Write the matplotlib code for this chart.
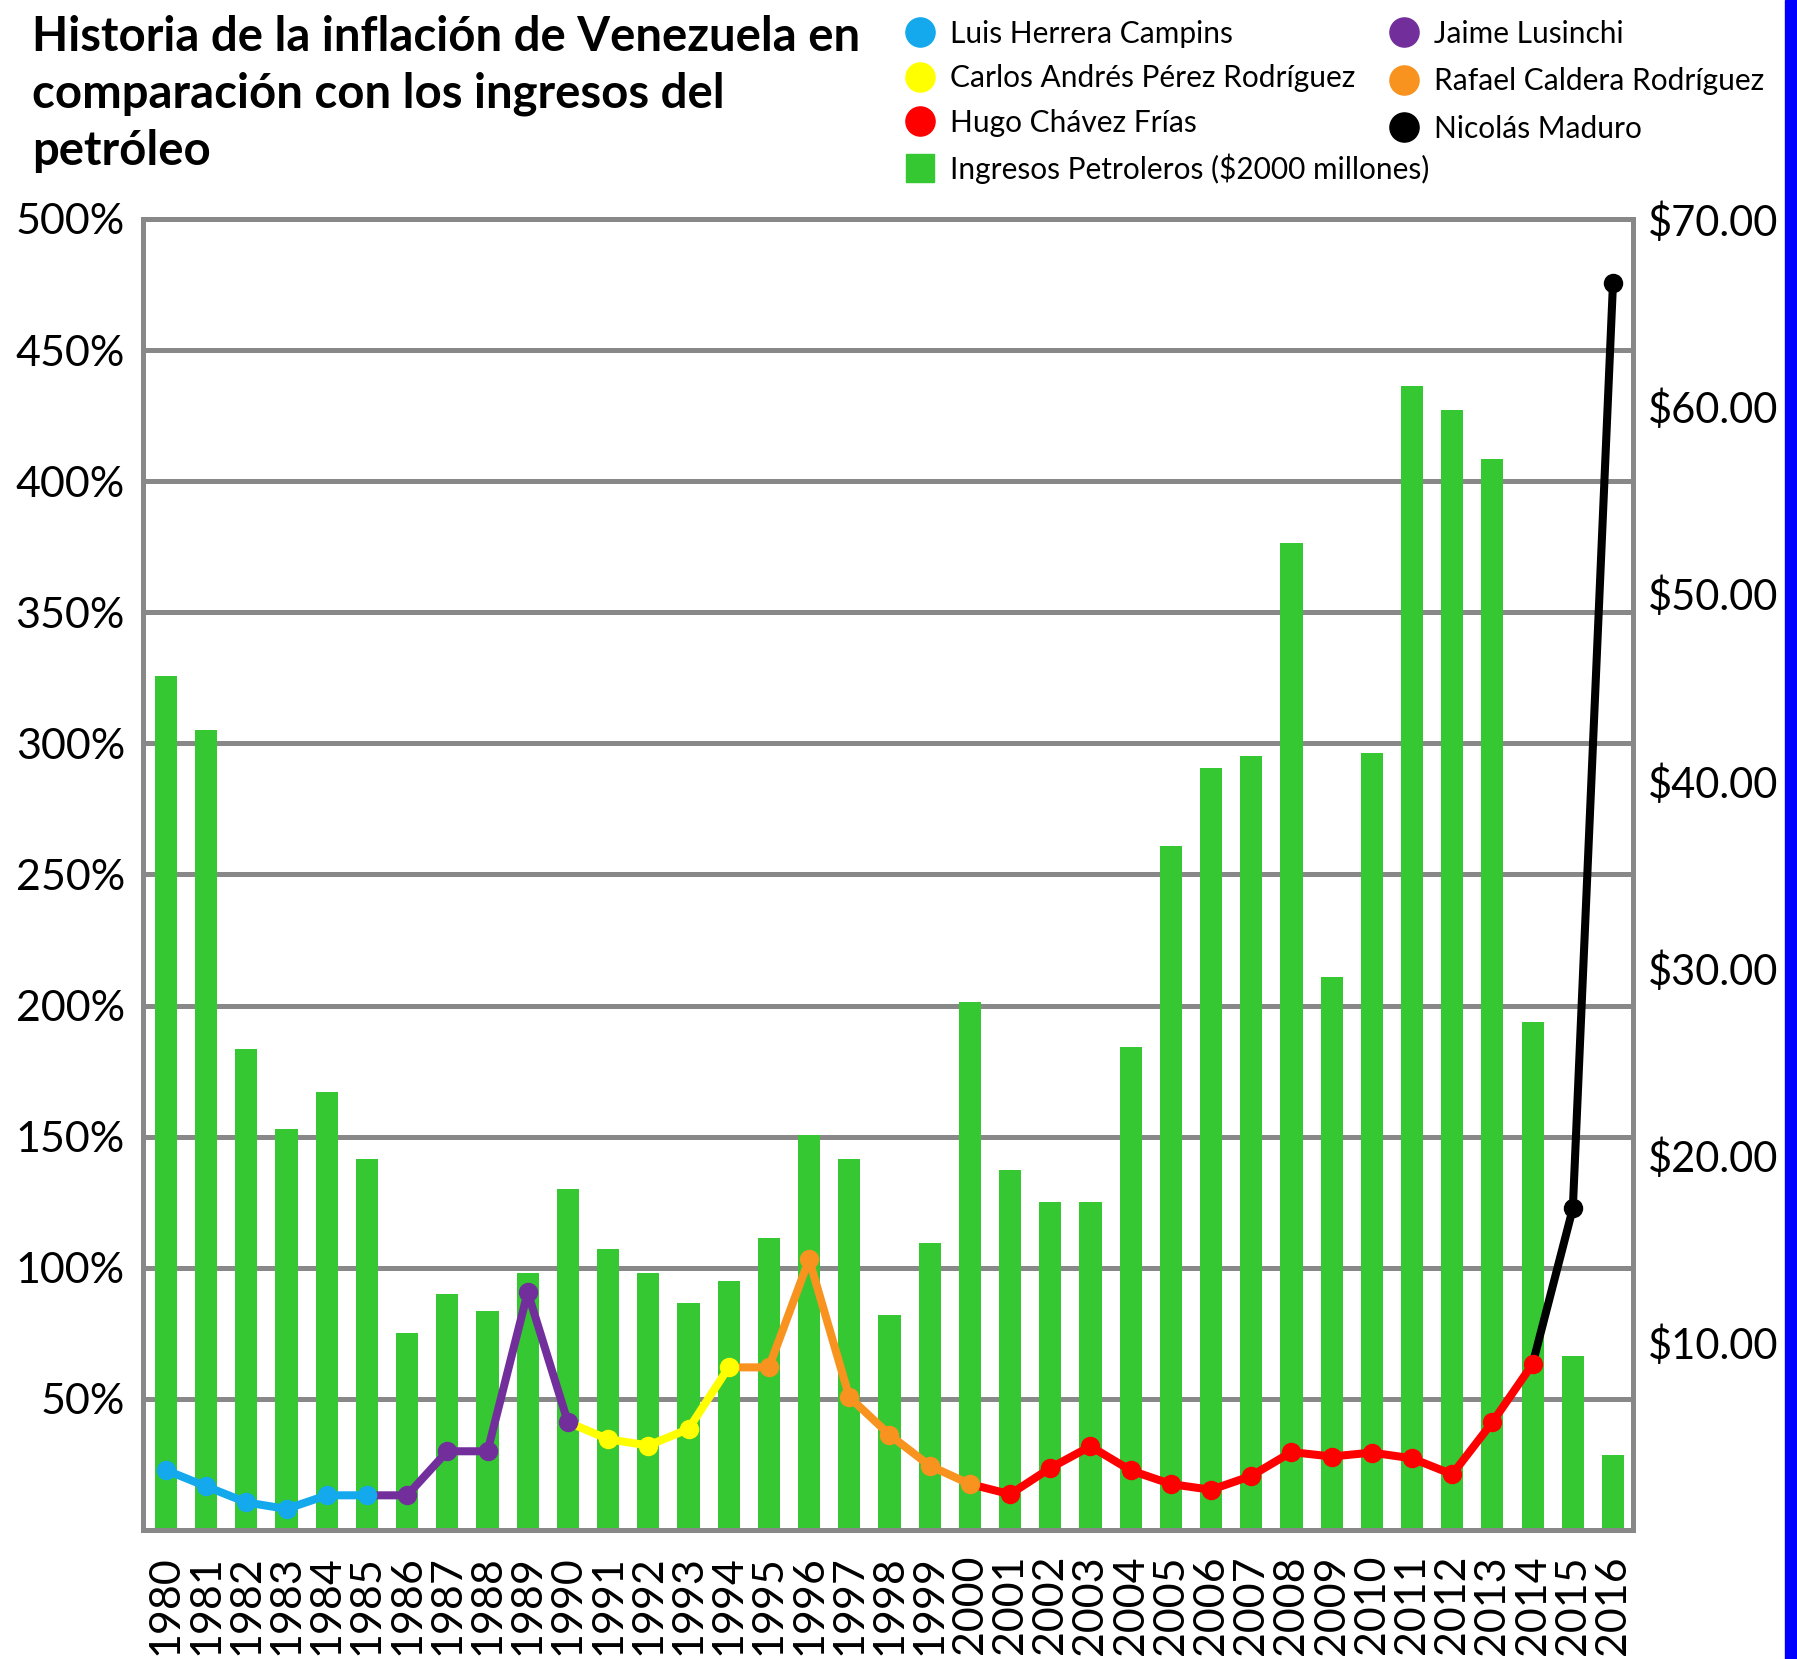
import numpy as np
import matplotlib
matplotlib.use('Agg')
from matplotlib import pyplot as plt
from matplotlib.lines import Line2D
from matplotlib.patches import Rectangle
from matplotlib.ticker import MultipleLocator, FixedLocator

plt.rcParams['font.family'] = ['Lato', 'DejaVu Sans']

# datos
anios = list(range(1980, 2017))
ingresos = [45.6, 42.7, 25.7, 21.4, 23.4, 19.8, 10.5, 12.6, 11.7, 13.7,
            18.2, 15.0, 13.7, 12.1, 13.3, 15.6, 21.1, 19.8, 11.5, 15.3,
            28.2, 19.2, 17.5, 17.5, 25.8, 36.5, 40.7, 41.3, 52.7, 29.5,
            41.5, 61.1, 59.8, 57.2, 27.1, 9.3, 4.0]
inflacion = [22.8, 16.6, 10.5, 8.0, 13.2, 13.2, 13.2, 30.0, 30.0, 90.6,
             41.1, 34.6, 32.2, 38.5, 62.0, 62.0, 103.2, 50.7, 36.3, 24.5,
             17.5, 13.6, 23.6, 31.9, 22.7, 17.5, 15.3, 20.6, 29.7, 28.0,
             29.5, 27.3, 21.2, 41.1, 63.3, 122.6, 475.7]

presidentes = ['Luis Herrera Campins', 'Jaime Lusinchi',
               'Carlos Andrés Pérez Rodríguez', 'Rafael Caldera Rodríguez',
               'Hugo Chávez Frías', 'Nicolás Maduro']
colores = ['#13a9ec', '#722f9c', '#ffff00', '#f7931e', '#ff0000', '#000000']
inicio = [1980, 1986, 1991, 1995, 2001, 2015]
fin = [1985, 1990, 1994, 2000, 2014, 2016]

verde = '#36c832'
gris = '#888888'

fig = plt.figure(figsize=(17.97, 16.59), dpi=100)
ax = fig.add_axes([0.0796, 0.0778, 0.8292, 0.7902])
ax_inf = ax.twinx()

# barras (eje derecho $)
ax.bar(anios, ingresos, width=0.55, color=verde, zorder=2)
ax.set_ylim(0, 70)
ax.set_xlim(1979.43, 2016.5)
ax.yaxis.tick_right()
ax.yaxis.set_major_locator(FixedLocator(np.arange(10, 71, 10)))
ax.yaxis.set_minor_locator(MultipleLocator(7))
ax.set_yticklabels(['$%.2f' % v for v in np.arange(10, 71, 10)])
ax.grid(which='minor', axis='y', color=gris, linewidth=3.6, zorder=0)
ax.set_axisbelow(True)
ax.tick_params(axis='y', which='both', length=0, pad=11, labelsize=30)
ax.set_xticks(anios)
ax.set_xticklabels([str(a) for a in anios], rotation=90)
ax.tick_params(axis='x', length=0, pad=18, labelsize=31)
for s in ax.spines.values():
    s.set_color(gris)
    s.set_linewidth(3.6)

# inflacion (eje izquierdo %)
x = np.array(anios)
y = np.array(inflacion)
for nombre, c, a0, a1 in zip(presidentes, colores, inicio, fin):
    i0 = anios.index(a0)
    i1 = anios.index(a1)
    j0 = max(i0 - 1, 0)
    ax_inf.plot(x[j0:i1 + 1], y[j0:i1 + 1], color=c, lw=5.8, zorder=3,
                solid_capstyle='round')
    ax_inf.plot(x[i0:i1 + 1], y[i0:i1 + 1], 'o', color=c, ms=13, zorder=4)
ax_inf.set_ylim(0, 500)
ax_inf.yaxis.tick_left()
ax_inf.set_yticks(np.arange(50, 501, 50))
ax_inf.set_yticklabels(['%d%%' % v for v in np.arange(50, 501, 50)])
ax_inf.tick_params(axis='y', length=0, pad=13, labelsize=31)
for s in ax_inf.spines.values():
    s.set_visible(False)

# titulo
fig.text(0.0178, 0.991, 'Historia de la inflación de Venezuela en\n'
         'comparación con los ingresos del\npetróleo',
         fontsize=34, fontweight='bold', va='top', ha='left', linespacing=1.36)

# leyenda
h1 = [Line2D([], [], ls='none', marker='o', ms=21, color=colores[0]),
      Line2D([], [], ls='none', marker='o', ms=21, color=colores[2]),
      Line2D([], [], ls='none', marker='o', ms=21, color=colores[4]),
      Line2D([], [], ls='none', marker='s', ms=20, color=verde)]
l1 = [presidentes[0], presidentes[2], presidentes[4],
      'Ingresos Petroleros ($2000 millones)']
h2 = [Line2D([], [], ls='none', marker='o', ms=21, color=colores[1]),
      Line2D([], [], ls='none', marker='o', ms=21, color=colores[3]),
      Line2D([], [], ls='none', marker='o', ms=21, color=colores[5])]
l2 = [presidentes[1], presidentes[3], presidentes[5]]
kw = dict(loc='upper left', frameon=False, fontsize=21.5, handlelength=1.0,
          handletextpad=0.5, borderpad=0, borderaxespad=0)
fig.legend(h1, l1, bbox_to_anchor=(0.5036, 0.988), labelspacing=0.55, **kw)
fig.legend(h2, l2, bbox_to_anchor=(0.773, 0.988), labelspacing=0.65, **kw)

# borde azul
fig.add_artist(Rectangle((1785 / 1797, 0), 12 / 1797, 1, color='#0000ff',
                         transform=fig.transFigure))

fig.savefig('out.png', dpi=100)
